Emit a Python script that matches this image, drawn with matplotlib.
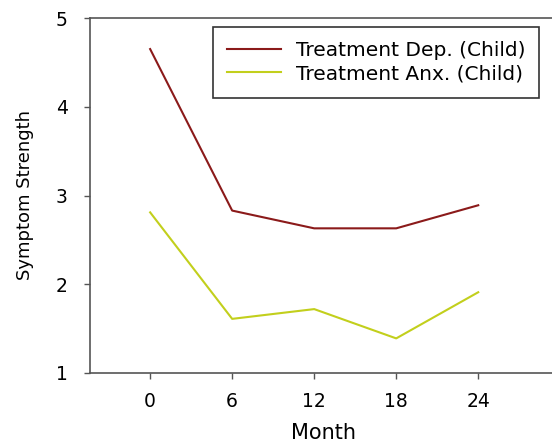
import matplotlib
matplotlib.use("Agg")
import matplotlib.pyplot as plt

months = [0, 6, 12, 18, 24]
dep_child = [4.65, 2.83, 2.63, 2.63, 2.89]
anx_child = [2.81, 1.61, 1.72, 1.39, 1.91]
series_labels = ["Treatment Dep. (Child)", "Treatment Anx. (Child)"]

plt.rcParams['font.family'] = ['DejaVu Sans']

fig = plt.figure(figsize=(5.52, 4.45), dpi=100)
ax = fig.add_axes([90 / 552, 1 - 373 / 445, 1 - 90 / 552 + 0.01, (373 - 18) / 445])

ax.plot(months, dep_child, color="#8B1A1A", lw=1.5, label=series_labels[0])
ax.plot(months, anx_child, color="#C2CF1C", lw=1.5, label=series_labels[1])

ax.set_xlim(-4.4, 29.8)
ax.set_ylim(1, 5)
ax.set_xticks(months)
ax.set_yticks([1, 2, 3, 4, 5])

for side in ["left", "bottom", "top"]:
    ax.spines[side].set_color("#555555")
    ax.spines[side].set_linewidth(1.2)
ax.spines["right"].set_visible(False)
ax.tick_params(direction="out", length=4, width=1, color="#555555",
               labelsize=13.5, pad=10)
ax.tick_params(axis="y", pad=12)

ax.set_xlabel("Month", fontsize=15, labelpad=8)
ax.set_ylabel("Symptom Strength", fontsize=13, labelpad=16)

leg = ax.legend(loc="upper left",
                bbox_to_anchor=((213 - 90) / 552 / ax.get_position().width, 1 - 9 / 355),
                fontsize=14.5, frameon=True, fancybox=False, edgecolor="black",
                handlelength=2.7, borderpad=0.7, labelspacing=0.22,
                handletextpad=0.7, borderaxespad=0)
leg.get_frame().set_linewidth(1.2)

fig.savefig("out.png", dpi=100)
